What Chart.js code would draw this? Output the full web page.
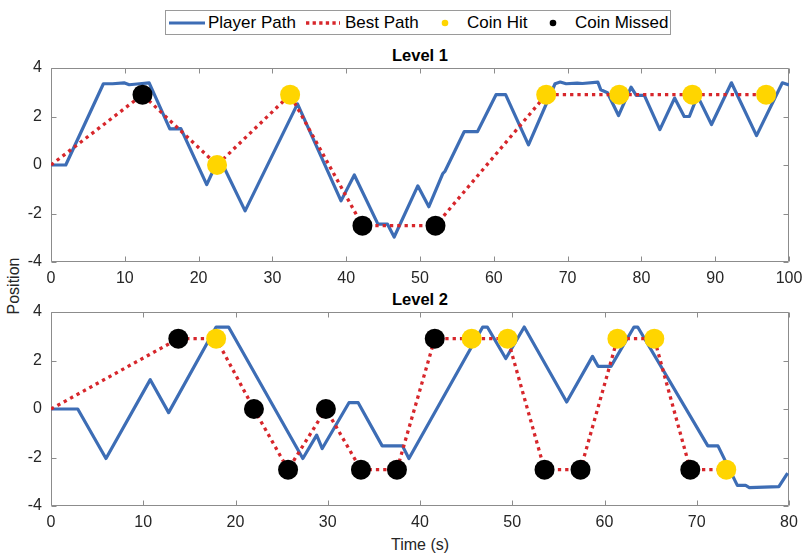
<!DOCTYPE html>
<html>
<head>
<meta charset="utf-8">
<script src="https://cdn.jsdelivr.net/npm/chart.js@4.4.1/dist/chart.umd.min.js"></script>
<style>
  html,body{margin:0;padding:0;background:#fff;}
  body{width:803px;height:554px;position:relative;overflow:hidden;font-family:"Liberation Sans",Arial,sans-serif;}
  .abs{position:absolute;}
  canvas{position:absolute;left:0;}
  .lg{position:absolute;top:11px;height:23px;line-height:23px;font-size:17px;color:#000;white-space:nowrap;}
  .ttl{position:absolute;left:51px;width:738px;text-align:center;font-weight:bold;font-size:16.5px;color:#000;line-height:20px;}
</style>
</head>
<body>
<div class="abs" style="left:165px;top:10px;width:504px;height:23px;border:1px solid #9a9a9a;background:#fff;"></div>
<svg class="abs" style="left:168px;top:19px" width="38" height="8"><line x1="1" y1="4" x2="37" y2="4" stroke="#3D6DB5" stroke-width="3"/></svg>
<div class="lg" style="left:208px">Player Path</div>
<svg class="abs" style="left:305px;top:19px" width="36" height="8"><line x1="1" y1="4" x2="35" y2="4" stroke="#D7262B" stroke-width="3.3" stroke-dasharray="3.3 3.3"/></svg>
<div class="lg" style="left:345px">Best Path</div>
<svg class="abs" style="left:440px;top:18px" width="10" height="10"><circle cx="5" cy="5" r="3.3" fill="#FFD500"/></svg>
<div class="lg" style="left:467px">Coin Hit</div>
<svg class="abs" style="left:548px;top:18px" width="10" height="10"><circle cx="5" cy="5" r="3.3" fill="#000"/></svg>
<div class="lg" style="left:575px">Coin Missed</div>

<div class="ttl" style="top:45px">Level 1</div>
<div class="ttl" style="top:289px">Level 2</div>
<div class="abs" style="left:14px;top:286px;transform:translate(-50%,-50%) rotate(-90deg);font-size:16px;color:#262626;white-space:nowrap;">Position</div>
<div class="abs" style="left:420px;top:545px;transform:translate(-50%,-50%);font-size:16px;color:#262626;white-space:nowrap;">Time (s)</div>

<canvas id="c1" width="803" height="252" style="top:40px;width:803px;height:252px"></canvas>
<canvas id="c2" width="803" height="270" style="top:284px;width:803px;height:270px"></canvas>

<script>
// ---------- Level 1 ----------
const level1Time = [0, 2.0, 7.1, 8.35, 9.9, 10.6, 12.0, 13.3, 16.1, 17.6, 21.1, 22.8, 26.3, 33.4, 39.3, 41.1, 44.3, 45.6, 46.5, 49.7, 51.2, 53.1, 53.4, 56.0, 57.8, 60.3, 61.6, 64.7, 68.3, 69.0, 69.8, 71.3, 72.0, 74.1, 74.5, 75.4, 76.9, 78.6, 79.3, 80.4, 82.5, 84.5, 85.8, 86.5, 87.6, 89.5, 92.2, 95.6, 99.1, 100];
const level1Pos  = [0, 0, 3.35, 3.35, 3.39, 3.31, 3.35, 3.39, 1.49, 1.5, -0.81, 0.31, -1.89, 2.52, -1.48, -0.41, -2.44, -2.44, -2.97, -0.86, -1.72, -0.35, -0.25, 1.38, 1.38, 2.9, 2.9, 0.83, 3.35, 3.42, 3.35, 3.38, 3.36, 3.42, 3.1, 2.98, 2.04, 3.21, 2.87, 2.87, 1.46, 2.76, 2.0, 2.0, 2.85, 1.67, 3.39, 1.21, 3.39, 3.3];
const level1CoinTime = [12.4, 22.5, 32.4, 42.2, 52.1, 67.1, 77.0, 86.9, 96.9];
const level1CoinPos  = [2.9, 0, 2.9, -2.5, -2.5, 2.9, 2.9, 2.9, 2.9];
const level1CoinHit  = [false, true, true, false, false, true, true, true, true];

// ---------- Level 2 ----------
const level2Time = [0, 2.9, 5.96, 10.76, 12.75, 17.9, 19.25, 27.3, 28.8, 29.4, 32.3, 33.3, 35.9, 38.1, 38.8, 46.8, 47.3, 49.3, 51.3, 55.9, 58.7, 59.3, 60.7, 63.2, 63.6, 71.2, 72.3, 74.4, 75.3, 75.7, 78.9, 79.85];
const level2Pos  = [0, 0, -2.04, 1.21, -0.15, 3.38, 3.38, -2.04, -1.08, -1.63, 0.26, 0.26, -1.52, -1.52, -2.04, 3.38, 3.38, 2.08, 3.38, 0.29, 2.17, 1.76, 1.76, 3.38, 3.38, -1.52, -1.52, -3.15, -3.15, -3.24, -3.2, -2.64];
const level2CoinTime = [13.8, 17.9, 22.0, 25.7, 29.8, 33.6, 37.5, 41.6, 45.6, 49.5, 53.5, 57.4, 61.4, 65.4, 69.3, 73.2];
const level2CoinPos  = [2.9, 2.9, 0, -2.5, 0, -2.5, -2.5, 2.9, 2.9, 2.9, -2.5, -2.5, 2.9, 2.9, -2.5, -2.5];
const level2CoinHit  = [false, true, false, false, false, false, false, false, true, true, false, false, true, true, false, true];

// ---------- ticks ----------
const level1XTicks = [0, 10, 20, 30, 40, 50, 60, 70, 80, 90, 100];
const level2XTicks = [0, 10, 20, 30, 40, 50, 60, 70, 80];
const yTicks = [-4, -2, 0, 2, 4];

const COLORS = {player:'#3D6DB5', best:'#D7262B', hit:'#FFD500', miss:'#000000', axis:'#8c8c8c', text:'#262626'};

const boxTicks = {
  id: 'boxTicks',
  beforeDatasetsDraw(chart) {
    const {ctx, chartArea: a, scales: {x, y}} = chart;
    ctx.save();
    ctx.strokeStyle = COLORS.axis;
    ctx.lineWidth = 1;
    const L = Math.round(a.left) + 0.5, R = Math.round(a.right) - 0.5;
    const T = Math.round(a.top) + 0.5, B = Math.round(a.bottom) - 0.5;
    ctx.beginPath();
    ctx.rect(L, T, R - L, B - T);
    const tl = 5;
    x.ticks.forEach(t => {
      const px = Math.round(x.getPixelForValue(t.value)) + 0.5;
      ctx.moveTo(px, B); ctx.lineTo(px, B - tl);
      ctx.moveTo(px, T); ctx.lineTo(px, T + tl);
    });
    y.ticks.forEach(t => {
      const py = Math.round(y.getPixelForValue(t.value)) + 0.5;
      ctx.moveTo(L, py); ctx.lineTo(L + tl, py);
      ctx.moveTo(R, py); ctx.lineTo(R - tl, py);
    });
    ctx.stroke();
    ctx.restore();
  }
};

function pts(xs, ys) { return xs.map((v, i) => ({x: v, y: ys[i]})); }

function makeChart(id, times, pos, cTimes, cPos, cHit, xMax, xTicks, xHeight) {
  const coinsHit = [], coinsMiss = [];
  cTimes.forEach((t, i) => (cHit[i] ? coinsHit : coinsMiss).push({x: t, y: cPos[i]}));
  const best = [{x: 0, y: 0}].concat(pts(cTimes, cPos));
  return new Chart(document.getElementById(id), {
    type: 'scatter',
    data: {
      datasets: [
        {label: 'Coin Hit', data: coinsHit, backgroundColor: COLORS.hit, borderWidth: 0, pointRadius: 10, order: 0},
        {label: 'Coin Missed', data: coinsMiss, backgroundColor: COLORS.miss, borderWidth: 0, pointRadius: 10, order: 0},
        {label: 'Best Path', data: best, showLine: true, borderColor: COLORS.best, borderWidth: 3.3, borderDash: [3.3, 4], borderCapStyle: 'butt', pointRadius: 0, tension: 0, order: 1},
        {label: 'Player Path', data: pts(times, pos), showLine: true, borderColor: COLORS.player, borderWidth: 3.2, borderJoinStyle: 'round', pointRadius: 0, tension: 0, order: 2}
      ]
    },
    options: {
      responsive: false,
      animation: false,
      events: [],
      layout: {padding: {top: 28, left: 0, right: 14, bottom: 0}},
      plugins: {legend: {display: false}, tooltip: {enabled: false}, title: {display: false}},
      scales: {
        x: {
          type: 'linear', min: 0, max: xMax,
          afterBuildTicks: s => { s.ticks = xTicks.map(v => ({value: v})); },
          afterFit: s => { s.height = xHeight; s.paddingLeft = 0; s.paddingRight = 0; },
          grid: {display: false, drawTicks: false},
          border: {display: false},
          ticks: {padding: 7, color: COLORS.text, font: {family: '"Liberation Sans", Arial', size: 16}, maxRotation: 0}
        },
        y: {
          type: 'linear', min: -4, max: 4,
          afterBuildTicks: s => { s.ticks = yTicks.map(v => ({value: v})); },
          afterFit: s => { s.width = 51; s.paddingTop = 0; s.paddingBottom = 0; },
          grid: {display: false, drawTicks: false},
          border: {display: false},
          ticks: {padding: 9, color: COLORS.text, font: {family: '"Liberation Sans", Arial', size: 16}}
        }
      }
    },
    plugins: [boxTicks]
  });
}

makeChart('c1', level1Time, level1Pos, level1CoinTime, level1CoinPos, level1CoinHit, 100, level1XTicks, 30);
makeChart('c2', level2Time, level2Pos, level2CoinTime, level2CoinPos, level2CoinHit, 80, level2XTicks, 48);
</script>
</body>
</html>
